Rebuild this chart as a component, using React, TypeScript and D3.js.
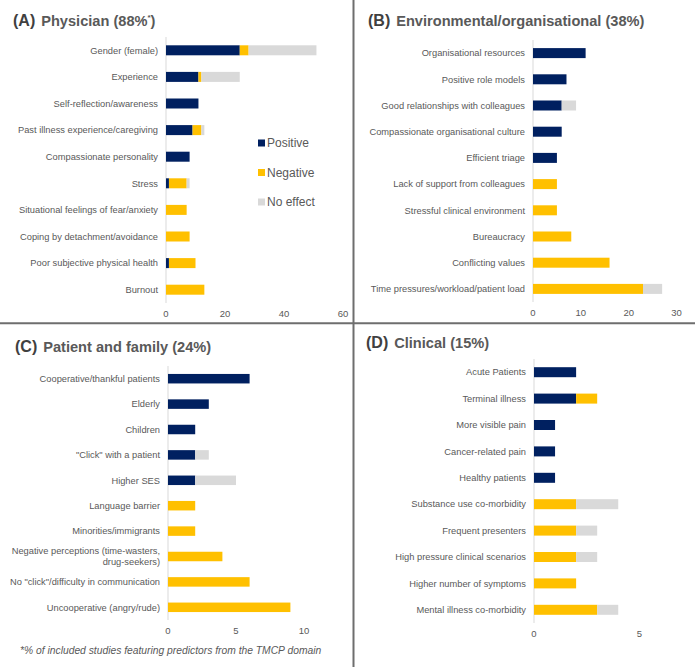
import React from "react";
import * as d3 from "d3";

// ---------- DATA ----------
const physicianCategories = [
  "Gender (female)",
  "Experience",
  "Self-reflection/awareness",
  "Past illness experience/caregiving",
  "Compassionate personality",
  "Stress",
  "Situational feelings of fear/anxiety",
  "Coping by detachment/avoidance",
  "Poor subjective physical health",
  "Burnout",
];
const physicianPositive = [25, 11, 11, 9, 8, 1, 0, 0, 1, 0];
const physicianNegative = [3, 1, 0, 3, 0, 6, 7, 8, 9, 13];
const physicianNoEffect = [23, 13, 0, 1, 0, 1, 0, 0, 0, 0];
const physicianTicks = [0, 20, 40, 60];

const envCategories = [
  "Organisational resources",
  "Positive role models",
  "Good relationships with colleagues",
  "Compassionate organisational culture",
  "Efficient triage",
  "Lack of support from colleagues",
  "Stressful clinical environment",
  "Bureaucracy",
  "Conflicting values",
  "Time pressures/workload/patient load",
];
const envPositive = [11, 7, 6, 6, 5, 0, 0, 0, 0, 0];
const envNegative = [0, 0, 0, 0, 0, 5, 5, 8, 16, 23];
const envNoEffect = [0, 0, 3, 0, 0, 0, 0, 0, 0, 4];
const envTicks = [0, 10, 20, 30];

const patientCategories = [
  "Cooperative/thankful patients",
  "Elderly",
  "Children",
  "\"Click\" with a patient",
  "Higher SES",
  "Language barrier",
  "Minorities/immigrants",
  "Negative perceptions (time-wasters,|drug-seekers)",
  "No \"click\"/difficulty in communication",
  "Uncooperative (angry/rude)",
];
const patientPositive = [6, 3, 2, 2, 2, 0, 0, 0, 0, 0];
const patientNegative = [0, 0, 0, 0, 0, 2, 2, 4, 6, 9];
const patientNoEffect = [0, 0, 0, 1, 3, 0, 0, 0, 0, 0];
const patientTicks = [0, 5, 10];

const clinicalCategories = [
  "Acute Patients",
  "Terminal illness",
  "More visible pain",
  "Cancer-related pain",
  "Healthy patients",
  "Substance use co-morbidity",
  "Frequent presenters",
  "High pressure clinical scenarios",
  "Higher number of symptoms",
  "Mental illness co-morbidity",
];
const clinicalPositive = [2, 2, 1, 1, 1, 0, 0, 0, 0, 0];
const clinicalNegative = [0, 1, 0, 0, 0, 2, 2, 2, 2, 3];
const clinicalNoEffect = [0, 0, 0, 0, 0, 2, 1, 1, 0, 1];
const clinicalTicks = [0, 5];

const seriesKeys = ["Positive", "Negative", "No effect"];
const seriesColors = ["#002060", "#FFC000", "#D9D9D9"];

// ---------- LAYOUT ----------
const FONT = "'Liberation Sans', Arial, sans-serif";
const TEXT = "#595959";

type PanelProps = {
  categories: string[];
  pos: number[];
  neg: number[];
  none: number[];
  ticks: number[];
  xDomainMax: number;
  xRange: [number, number];
  yRange: [number, number];
  barH: number;
};

function Panel({ categories, pos, neg, none, ticks, xDomainMax, xRange, yRange, barH }: PanelProps) {
  const x = d3.scaleLinear().domain([0, xDomainMax]).range(xRange);
  const y = d3.scaleBand<string>().domain(categories).range(yRange);
  const rows = categories.map((c, i) => ({ cat: c, Positive: pos[i], Negative: neg[i], "No effect": none[i] }));
  const stacked = d3.stack<any>().keys(seriesKeys)(rows as any);
  const labelX = xRange[0] - 8;
  return (
    <g>
      <line x1={xRange[0]} x2={xRange[0]} y1={yRange[0]} y2={yRange[1]} stroke="#D9D9D9" strokeWidth={1} />
      {stacked.map((s, si) => (
        <g key={si} fill={seriesColors[si]}>
          {s.map((d, i) =>
            d[1] - d[0] > 0 ? (
              <rect
                key={i}
                x={x(d[0])}
                width={x(d[1]) - x(d[0])}
                y={(y(categories[i]) as number) + y.bandwidth() / 2 - barH / 2}
                height={barH}
              />
            ) : null
          )}
        </g>
      ))}
      {categories.map((c, i) => {
        const cy = (y(c) as number) + y.bandwidth() / 2;
        const parts = c.split("|");
        const lh = 11;
        return (
          <text key={i} x={labelX} y={cy} textAnchor="end" fontSize={9.3} fill={TEXT} fontFamily={FONT}>
            {parts.map((p, j) => (
              <tspan key={j} x={labelX} y={cy + (j - (parts.length - 1) / 2) * lh} dy="0.35em">
                {p}
              </tspan>
            ))}
          </text>
        );
      })}
      {ticks.map((t) => (
        <text key={t} x={x(t)} y={yRange[1] + 11} dy="0.35em" textAnchor="middle" fontSize={9.5} fill={TEXT} fontFamily={FONT}>
          {t}
        </text>
      ))}
    </g>
  );
}

function Title({ x, y, letter, text, star }: { x: number; y: number; letter: string; text: string; star?: boolean }) {
  return (
    <text x={x} y={y} fontFamily={FONT} fontWeight="bold" fontSize={14.6} fill={TEXT}>
      <tspan fontSize={16} fill="#404040">{letter}</tspan>
      <tspan dx={6}>{text}</tspan>
      {star ? (
        <>
          <tspan fontSize={8} dy={-6}>*</tspan>
          <tspan dy={6}>)</tspan>
        </>
      ) : null}
    </text>
  );
}

export default function App() {
  const W = 695;
  const H = 667;
  return (
    <svg width={W} height={H} style={{ position: "absolute", left: 0, top: 0, background: "#fff" }}>
      <rect width={W} height={H} fill="#fff" />
      {/* dividers */}
      <line x1={0} x2={W} y1={323.3} y2={323.3} stroke="#6E6E6E" strokeWidth={2} />
      <line x1={353.5} x2={353.5} y1={0} y2={H} stroke="#6E6E6E" strokeWidth={2} />

      <Title x={13} y={26} letter="(A)" text="Physician (88%" star />
      <Title x={368} y={26} letter="(B)" text="Environmental/organisational (38%)" />
      <Title x={15} y={352} letter="(C)" text="Patient and family (24%)" />
      <Title x={366} y={348} letter="(D)" text="Clinical (15%)" />

      <Panel
        categories={physicianCategories}
        pos={physicianPositive}
        neg={physicianNegative}
        none={physicianNoEffect}
        ticks={physicianTicks}
        xDomainMax={60}
        xRange={[166, 343]}
        yRange={[37, 303]}
        barH={10}
      />
      <Panel
        categories={envCategories}
        pos={envPositive}
        neg={envNegative}
        none={envNoEffect}
        ticks={envTicks}
        xDomainMax={30}
        xRange={[533, 676.5]}
        yRange={[40, 302]}
        barH={10}
      />
      <Panel
        categories={patientCategories}
        pos={patientPositive}
        neg={patientNegative}
        none={patientNoEffect}
        ticks={patientTicks}
        xDomainMax={10}
        xRange={[168, 304]}
        yRange={[366, 620]}
        barH={9.5}
      />
      <Panel
        categories={clinicalCategories}
        pos={clinicalPositive}
        neg={clinicalNegative}
        none={clinicalNoEffect}
        ticks={clinicalTicks}
        xDomainMax={5}
        xRange={[534, 639.3]}
        yRange={[359, 623]}
        barH={10}
      />

      {/* legend for panel A */}
      {seriesKeys.map((k, i) => (
        <g key={k}>
          <rect x={258} y={143 + i * 29.5 - 3.5} width={7} height={7} fill={seriesColors[i]} />
          <text x={267} y={143 + i * 29.5} dy="0.35em" fontSize={12} fill={TEXT} fontFamily={FONT}>
            {k}
          </text>
        </g>
      ))}

      <text x={20} y={650} dy="0.35em" fontSize={10.3} fontStyle="italic" fill={TEXT} fontFamily={FONT}>
        *% of included studies featuring predictors from the TMCP domain
      </text>
    </svg>
  );
}
